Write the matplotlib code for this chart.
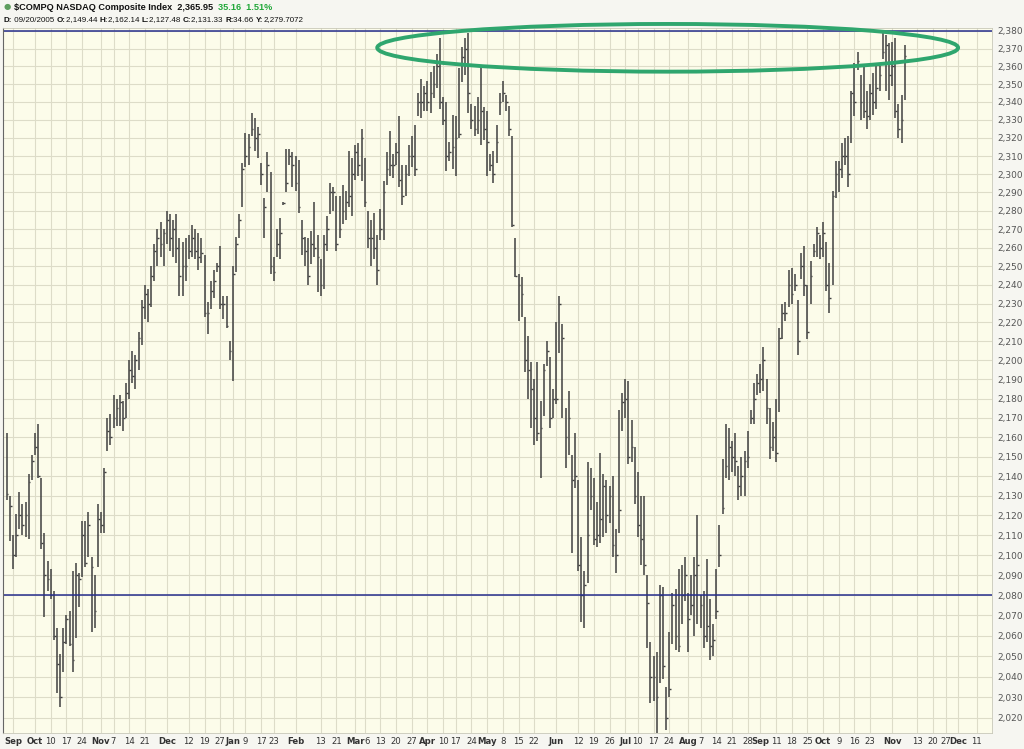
import numpy as np
import pandas as pd
import matplotlib
matplotlib.use("Agg")
import matplotlib.pyplot as plt
import matplotlib.transforms as mtransforms
from matplotlib.patches import Ellipse
from matplotlib.ticker import FixedLocator, NullLocator, FuncFormatter

# NYSE holidays in the window
holidays = ["2005-11-24", "2005-12-26", "2006-01-02", "2006-01-16", "2006-02-20",
            "2006-04-14", "2006-05-29", "2006-07-04", "2006-09-04", "2006-11-23",
            "2006-12-25"]
start_date = "2005-09-20"

# daily high / low / close (Sep 20 2005 -> Nov 7 2006)
highs = [2162, 2130, 2110, 2121, 2132, 2126, 2127, 2141, 2151, 2162, 2167, 2139, 2111, 2097, 2093, 2082, 2064, 2051, 2064, 2070,
         2072, 2092, 2096, 2091, 2117, 2117, 2122, 2099, 2090, 2126, 2122, 2144, 2170, 2172, 2182, 2180, 2182, 2179,
         2188, 2200, 2205, 2203, 2215, 2232, 2240, 2238, 2250, 2262, 2270, 2274, 2270, 2280, 2278, 2275, 2278,
         2265, 2263, 2265, 2267, 2272, 2270, 2268, 2265, 2256, 2231, 2242, 2248, 2252, 2261, 2234, 2234, 2210, 2250, 2266, 2278,
         2306, 2323, 2322, 2334, 2331, 2326, 2306, 2287, 2312, 2301, 2255, 2270, 2276, 2285, 2314, 2314, 2312, 2310, 2308, 2275,
         2266, 2265, 2269, 2285, 2267, 2254, 2267, 2277, 2295, 2293, 2288, 2288, 2294, 2291, 2313, 2309, 2316, 2317, 2325, 2309,
         2280, 2275, 2279, 2267,
         2281, 2296, 2312, 2324, 2311, 2317, 2332, 2305, 2305, 2316, 2321, 2327, 2345, 2353, 2349, 2352, 2357, 2360, 2367, 2376,
         2343, 2340, 2318, 2333, 2332, 2359, 2371, 2376, 2379, 2339, 2338, 2343, 2361, 2337, 2335, 2311, 2313, 2327, 2345, 2352,
         2344, 2338, 2321, 2265, 2246, 2244, 2223, 2213, 2199, 2190, 2199, 2179, 2198, 2210, 2202, 2185, 2220,
         2234, 2219, 2175, 2184, 2151, 2162, 2138, 2109, 2092, 2147, 2144, 2139, 2127, 2152, 2141, 2138, 2135, 2140, 2113, 2174,
         2183, 2190, 2189, 2169, 2155, 2142, 2130, 2130, 2090, 2057, 2050, 2052, 2085, 2084, 2035, 2062, 2081, 2083, 2093, 2095,
         2099, 2081, 2090, 2099, 2120, 2080, 2082, 2098, 2078, 2066, 2093, 2115, 2149, 2167, 2165, 2158, 2162,
         2145, 2150, 2153, 2163, 2174, 2188, 2193, 2198, 2207, 2190, 2175, 2168, 2180, 2217, 2230, 2231, 2248, 2249, 2246, 2232,
         2257, 2261, 2240, 2253, 2262, 2271, 2267, 2274, 2263, 2252, 2291, 2307, 2307, 2317, 2320, 2321, 2346, 2362, 2368, 2355,
         2361, 2346, 2350, 2356, 2360, 2360, 2379, 2378, 2373, 2374, 2376, 2339, 2344, 2372]
lows = [2128, 2107, 2093, 2099, 2113, 2110, 2109, 2108, 2138, 2151, 2139, 2103, 2069, 2082, 2078, 2058, 2032, 2025, 2042, 2056,
        2055, 2042, 2059, 2074, 2089, 2094, 2099, 2062, 2064, 2094, 2111, 2111, 2153, 2156, 2165, 2166, 2166, 2163,
        2170, 2180, 2188, 2185, 2195, 2208, 2222, 2220, 2228, 2242, 2250, 2255, 2250, 2262, 2258, 2255, 2252,
        2234, 2234, 2242, 2254, 2255, 2254, 2248, 2252, 2223, 2214, 2227, 2233, 2247, 2227, 2222, 2217, 2200, 2189, 2247, 2265,
        2282, 2304, 2305, 2321, 2313, 2309, 2294, 2265, 2290, 2246, 2242, 2255, 2254, 2283, 2290, 2305, 2293, 2291, 2279, 2256,
        2250, 2240, 2251, 2255, 2236, 2234, 2238, 2258, 2278, 2280, 2258, 2265, 2273, 2275, 2282, 2277, 2297, 2299, 2296, 2282,
        2260, 2250, 2254, 2240,
        2264, 2264, 2294, 2299, 2298, 2305, 2293, 2283, 2288, 2299, 2304, 2299, 2332, 2331, 2335, 2335, 2334, 2342, 2348, 2336,
        2327, 2302, 2307, 2303, 2299, 2320, 2351, 2355, 2334, 2325, 2321, 2322, 2316, 2319, 2299, 2302, 2295, 2306, 2333, 2340,
        2335, 2321, 2271, 2244, 2221, 2223, 2194, 2180, 2165, 2156, 2158, 2139, 2171, 2197, 2165, 2170, 2177,
        2204, 2170, 2144, 2151, 2101, 2134, 2092, 2067, 2064, 2086, 2123, 2105, 2104, 2106, 2109, 2111, 2116, 2099, 2091, 2111,
        2163, 2170, 2146, 2147, 2126, 2109, 2095, 2090, 2054, 2027, 2028, 2012, 2037, 2039, 2014, 2030, 2056, 2053, 2052, 2066,
        2077, 2052, 2070, 2060, 2066, 2064, 2054, 2057, 2048, 2050, 2068, 2094, 2121, 2139, 2138, 2142, 2140,
        2128, 2130, 2130, 2144, 2167, 2167, 2182, 2183, 2184, 2167, 2149, 2153, 2147, 2173, 2211, 2221, 2228, 2230, 2237, 2203,
        2243, 2234, 2211, 2230, 2255, 2255, 2254, 2255, 2237, 2225, 2240, 2287, 2290, 2298, 2305, 2293, 2317, 2332, 2358, 2330,
        2331, 2325, 2330, 2333, 2336, 2346, 2364, 2346, 2341, 2349, 2331, 2320, 2317, 2341]
closes = [2131, 2125, 2100, 2110, 2120, 2115, 2120, 2137, 2148, 2155, 2140, 2106, 2090, 2088, 2080, 2060, 2046, 2030, 2057, 2068,
          2056, 2048, 2090, 2088, 2110, 2096, 2115, 2094, 2072, 2118, 2115, 2142, 2163, 2160, 2170, 2175, 2178, 2170,
          2183, 2195, 2192, 2200, 2212, 2228, 2235, 2230, 2245, 2258, 2265, 2262, 2268, 2275, 2265, 2270, 2260,
          2245, 2250, 2250, 2258, 2265, 2258, 2255, 2257, 2225, 2225, 2237, 2242, 2250, 2230, 2230, 2218, 2205, 2246, 2262, 2275,
          2303, 2310, 2315, 2325, 2320, 2322, 2300, 2282, 2305, 2250, 2247, 2262, 2268, 2284, 2295, 2310, 2305, 2295, 2282, 2265,
          2258, 2245, 2262, 2260, 2255, 2240, 2262, 2270, 2290, 2290, 2262, 2270, 2280, 2285, 2288, 2300, 2312, 2305, 2320, 2285,
          2265, 2265, 2260, 2248,
          2270, 2290, 2303, 2305, 2305, 2312, 2297, 2288, 2300, 2310, 2310, 2303, 2340, 2340, 2345, 2340, 2345, 2350, 2360, 2340,
          2330, 2310, 2312, 2315, 2320, 2322, 2365, 2370, 2345, 2330, 2325, 2330, 2335, 2325, 2318, 2305, 2300, 2318, 2340, 2345,
          2340, 2325, 2272, 2245, 2240, 2235, 2200, 2195, 2185, 2170, 2162, 2165, 2195, 2205, 2170, 2180, 2180,
          2230, 2212, 2160, 2170, 2138, 2140, 2095, 2080, 2085, 2110, 2130, 2108, 2110, 2118, 2135, 2120, 2130, 2105, 2100, 2123,
          2178, 2180, 2150, 2155, 2130, 2115, 2108, 2095, 2076, 2040, 2040, 2030, 2080, 2045, 2020, 2034, 2075, 2060, 2055, 2080,
          2090, 2068, 2075, 2090, 2095, 2075, 2060, 2065, 2055, 2058, 2072, 2100, 2124, 2145, 2155, 2150, 2148,
          2135, 2140, 2148, 2150, 2170, 2180, 2188, 2190, 2200, 2175, 2155, 2160, 2152, 2212, 2225, 2225, 2240, 2235, 2240, 2210,
          2250, 2240, 2215, 2245, 2258, 2268, 2260, 2268, 2240, 2233, 2288, 2300, 2303, 2310, 2310, 2300, 2345, 2340, 2363, 2340,
          2335, 2332, 2345, 2340, 2348, 2355, 2368, 2372, 2355, 2360, 2335, 2325, 2330, 2366]

tick_dates = ["2005-09-22", "2005-10-03", "2005-10-10", "2005-10-17", "2005-10-24", "2005-11-01", "2005-11-07",
              "2005-11-14", "2005-11-21", "2005-12-01", "2005-12-12", "2005-12-19", "2005-12-27", "2006-01-03",
              "2006-01-09", "2006-01-17", "2006-01-23", "2006-02-01", "2006-02-13", "2006-02-21", "2006-03-01",
              "2006-03-06", "2006-03-13", "2006-03-20", "2006-03-27", "2006-04-03", "2006-04-10", "2006-04-17",
              "2006-04-24", "2006-05-01", "2006-05-08", "2006-05-15", "2006-05-22", "2006-06-01", "2006-06-12",
              "2006-06-19", "2006-06-26", "2006-07-03", "2006-07-10", "2006-07-17", "2006-07-24", "2006-08-01",
              "2006-08-07", "2006-08-14", "2006-08-21", "2006-08-28", "2006-09-01", "2006-09-11", "2006-09-18",
              "2006-09-25", "2006-10-02", "2006-10-09", "2006-10-16", "2006-10-23", "2006-11-01", "2006-11-13",
              "2006-11-20", "2006-11-27", "2006-12-01", "2006-12-11"]
tick_labels = ["Sep", "Oct", "10", "17", "24", "Nov", "7", "14", "21", "Dec", "12", "19", "27", "Jan", "9", "17", "23",
               "Feb", "13", "21", "Mar", "6", "13", "20", "27", "Apr", "10", "17", "24", "May", "8", "15", "22",
               "Jun", "12", "19", "26", "Jul", "10", "17", "24", "Aug", "7", "14", "21", "28", "Sep", "11", "18",
               "25", "Oct", "9", "16", "23", "Nov", "13", "20", "27", "Dec", "11"]
y_ticks = list(range(2020, 2390, 10))
level_lines = [2380, 2080]
# highlighted zone (ellipse): from / to date and price band
zone_dates = ["2006-03-10", "2006-12-01"]
zone_prices = [2357, 2384]

# trading day calendar -> integer position on the axis
cal = pd.bdate_range(start_date, "2006-12-29", freq="C", holidays=holidays)
day_pos = {d.strftime("%Y-%m-%d"): i for i, d in enumerate(cal)}
x = np.arange(len(highs))
tick_pos = [day_pos[d] for d in tick_dates]

W, H = 1024, 749
fig = plt.figure(figsize=(W / 100, H / 100), dpi=100, facecolor="#F6F6F1")
ax = fig.add_axes([3 / W, 1 - 733 / H, 989 / W, 705 / H])
ax.set_facecolor("#FCFCEA")
ax.set_yscale("log")
ax.set_ylim(2012.7, 2381.7)
ax.set_xlim(-1.2, 313.8)

# grid
ax.yaxis.set_major_locator(FixedLocator(y_ticks))
ax.yaxis.set_minor_locator(NullLocator())
ax.yaxis.set_major_formatter(FuncFormatter(lambda v, p: f"{v:,.0f}"))
ax.yaxis.tick_right()
ax.set_xticks(tick_pos)
ax.set_xticklabels(tick_labels)
ax.tick_params(axis="both", length=0, colors="#333333")
ax.tick_params(axis="x", pad=3, labelsize=6.1)
ax.tick_params(axis="y", pad=4, labelsize=6.5, labelcolor="#555555")
# month names bold; a day number squeezed right after a month name is nudged right
shift = mtransforms.ScaledTranslation(2.5 / 100, 0, fig.dpi_scale_trans)
labs = ax.get_xticklabels()
for i, lab in enumerate(labs):
    if not lab.get_text().isdigit():
        lab.set_fontweight("bold")
    elif i > 0 and not tick_labels[i - 1].isdigit() and tick_pos[i] - tick_pos[i - 1] <= 3:
        lab.set_transform(lab.get_transform() + shift)
ax.grid(True, color="#DDDCC8", lw=0.8)
ax.set_axisbelow(True)
for s in ["top", "right", "bottom"]:
    ax.spines[s].set_color("#C8C8B8")
    ax.spines[s].set_linewidth(0.6)
ax.spines["left"].set_color("#666666")

# HLC bars
ax.vlines(x, lows, highs, color="#404040", lw=1.1)
ax.hlines(closes, x, x + 0.55, color="#404040", lw=1.0)

for lv in level_lines:
    ax.axhline(lv, color="#262E8C", lw=1.1)

# green ellipse
x0, x1 = day_pos[zone_dates[0]], day_pos[zone_dates[1]]
ell = Ellipse(((x0 + x1) / 2, np.mean(zone_prices)), x1 - x0, zone_prices[1] - zone_prices[0],
              fill=False, edgecolor="#2FA66E", lw=2.8, clip_on=False, zorder=5)
ax.add_patch(ell)

# header
renderer = fig.canvas.get_renderer()


def write_pieces(px, py, pieces, size):
    for txt, weight, color in pieces:
        t = fig.text(px / W, 1 - py / H, txt, fontsize=size, fontweight=weight, color=color,
                     va="center", ha="left", family="Liberation Sans")
        px += t.get_window_extent(renderer=renderer).width


fig.text(7 / W, 1 - 7 / H, "\u25cf", fontsize=6, color="#5E9E5E", va="center", ha="center")
write_pieces(14, 7, [("$COMPQ NASDAQ Composite Index  2,365.95  ", "bold", "#111111"),
                     ("35.16  1.51%", "bold", "#22A83A")], 6.6)
write_pieces(4, 20, [("D:", "bold", "#111111"), (" 09/20/2005 ", "normal", "#111111"),
                     ("O:", "bold", "#111111"), ("2,149.44 ", "normal", "#111111"),
                     ("H:", "bold", "#111111"), ("2,162.14 ", "normal", "#111111"),
                     ("L:", "bold", "#111111"), ("2,127.48 ", "normal", "#111111"),
                     ("C:", "bold", "#111111"), ("2,131.33 ", "normal", "#111111"),
                     ("R:", "bold", "#111111"), ("34.66 ", "normal", "#111111"),
                     ("Y:", "bold", "#111111"), ("2,279.7072", "normal", "#111111")], 5.8)

fig.savefig("out.png", dpi=100, facecolor=fig.get_facecolor())
